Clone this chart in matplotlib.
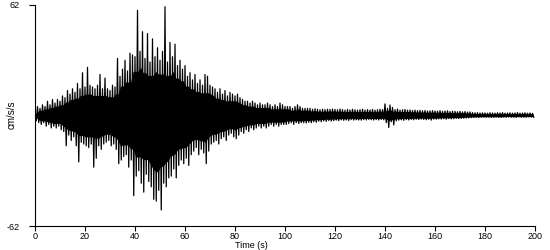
import numpy as np
import matplotlib.pyplot as plt

# peak values (cm/s/s) read per second, t = 0..199 s
peak_hi = [
    3, 5, 4, 6, 5, 8, 6, 9, 7, 9,
    8, 11, 10, 14, 12, 15, 13, 18, 15, 24,
    16, 27, 17, 16, 15, 17, 23, 15, 21, 15,
    14, 17, 16, 32, 22, 26, 31, 25, 35, 34,
    33, 59, 36, 47, 32, 46, 30, 43, 33, 38,
    31, 36, 61, 30, 41, 33, 40, 28, 31, 26,
    28, 22, 24, 20, 23, 18, 20, 17, 23, 22,
    17, 16, 15, 13, 15, 12, 14, 11, 13, 12,
    11, 12, 10, 9, 8, 8, 7, 8, 7, 6,
    7, 6, 6, 7, 6, 5, 6, 5, 7, 6,
    5, 5, 5, 4, 5, 6, 5, 4, 4, 4,
    4, 3.5, 3.8, 3.5, 3.2, 3.5, 3.3, 3.5, 3.4, 3.6,
    3.4, 3.2, 3.6, 3.3, 3.0, 3.4, 3.1, 3.5, 3.2, 3.0,
    3.2, 3.5, 3.0, 3.3, 3.1, 3.4, 3.0, 3.2, 3.5, 3.3,
    6.5, 4.0, 5.9, 4.5, 3.3, 3.6, 3.0, 3.2, 3.4, 3.0,
    3.1, 2.8, 3.0, 2.7, 2.9, 2.6, 2.8, 2.5, 2.6, 2.7,
    2.5, 2.4, 2.7, 2.3, 2.5, 2.6, 2.2, 2.4, 2.3, 2.1,
    2.3, 2.0, 2.2, 1.9, 2.0, 1.6, 1.5, 1.6, 1.4, 1.5,
    1.4, 1.3, 1.5, 1.4, 1.3, 1.5, 1.4, 1.6, 1.3, 1.4,
    1.5, 1.3, 1.4, 1.6, 1.3, 1.4, 1.5, 1.3, 1.4, 1.2,
]
peak_lo = [
    -3, -4, -5, -4, -6, -5, -7, -6, -7, -6,
    -8, -9, -17, -11, -14, -12, -17, -26, -15, -16,
    -17, -18, -16, -29, -24, -17, -19, -16, -15, -14,
    -17, -16, -19, -27, -25, -23, -22, -29, -25, -45,
    -34, -31, -38, -43, -33, -37, -40, -47, -48, -42,
    -53, -38, -40, -35, -34, -30, -35, -28, -25, -27,
    -24, -28, -22, -20, -18, -22, -19, -21, -27, -20,
    -16, -15, -14, -16, -13, -12, -14, -11, -10, -12,
    -13, -11, -9, -10, -8, -9, -7, -8, -7, -6,
    -7, -6, -7, -6, -5, -6, -5, -6, -5, -5,
    -5, -4.5, -4, -5, -4, -4.5, -4, -4, -4.2, -3.8,
    -4, -3.5, -3.8, -3.2, -3.5, -3.0, -3.3, -2.8, -3.1, -2.9,
    -2.6, -2.9, -2.4, -2.7, -2.5, -2.8, -2.3, -2.6, -2.4, -2.5,
    -2.6, -2.3, -2.5, -2.2, -2.4, -2.6, -2.3, -2.5, -2.2, -2.4,
    -4.0, -6.7, -3.5, -5.3, -3.0, -2.6, -2.4, -2.7, -2.3, -2.5,
    -2.2, -2.4, -2.1, -2.3, -2.0, -2.2, -2.4, -2.1, -2.6, -2.0,
    -2.1, -1.9, -2.0, -1.8, -2.1, -1.7, -1.9, -1.8, -1.6, -1.7,
    -1.6, -1.5, -1.4, -1.3, -1.2, -1.1, -1.0, -1.1, -1.0, -0.9,
    -1.0, -0.9, -1.1, -1.0, -0.9, -1.0, -1.1, -0.9, -1.0, -0.8,
    -1.0, -0.9, -1.1, -0.8, -1.0, -0.9, -1.0, -0.8, -0.9, -1.0,
]
x_ticks = [0, 20, 40, 60, 80, 100, 120, 140, 160, 180, 200]
y_ticks = [-62, 62]

# interleave the peaks so the trace swings up and down like the record
t = np.arange(len(peak_hi))
times = np.column_stack([t, t + 0.5]).ravel()
accel = np.column_stack([peak_hi, peak_lo]).ravel()

# solid body of the trace, a bit below the smallest neighbouring peak
hi = np.array(peak_hi, dtype=float)
lo = np.array(peak_lo, dtype=float)
core_hi = 0.75 * np.minimum(hi, np.minimum(np.roll(hi, 1), np.roll(hi, -1)))
core_lo = 0.75 * np.maximum(lo, np.maximum(np.roll(lo, 1), np.roll(lo, -1)))

plt.rcParams['font.family'] = ['Liberation Sans', 'DejaVu Sans']
plt.rcParams['axes.unicode_minus'] = False

fig = plt.figure(figsize=(5.5, 2.5), dpi=100)
ax = fig.add_axes([35 / 550, 24 / 250, 500 / 550, 221 / 250])
ax.fill_between(t + 0.25, core_lo, core_hi, color='black', linewidth=0)
ax.plot(times, accel, color='black', linewidth=0.9)

ax.set_xlim(0, 200)
ax.set_ylim(-62, 62)
ax.set_xticks(x_ticks)
ax.set_yticks(y_ticks)
ax.tick_params(axis='x', length=3.5, width=0.8, pad=0.5, labelsize=6.5)
ax.tick_params(axis='y', length=4, width=0.8, pad=7, labelsize=6.5)
for s in ['top', 'right']:
    ax.spines[s].set_visible(False)
for s in ['left', 'bottom']:
    ax.spines[s].set_linewidth(0.8)

fig.text(12 / 550, 1 - 115 / 250, 'cm/s/s', rotation=90, ha='center', va='center', fontsize=7)
fig.text(251 / 550, 1 - 245.5 / 250, 'Time (s)', ha='center', va='center', fontsize=6.5)

fig.savefig('out.png', dpi=100)
